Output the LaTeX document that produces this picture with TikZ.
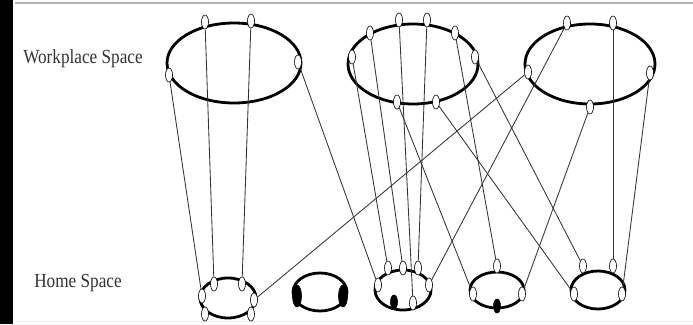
\documentclass[tikz,border=0pt]{standalone}
\usepackage{fontspec}
\usepackage{tikz}
\usetikzlibrary{shapes.geometric, positioning}
\newfontfamily\labelfont{Liberation Serif}

\begin{document}
\begin{tikzpicture}[x=1pt, y=-1pt,
    ring/.style={draw, ellipse, line width=2.8pt, inner sep=0pt},
    port/.style={draw, ellipse, line width=0.6pt, fill=white, inner sep=0pt, minimum width=7pt, minimum height=14pt},
    blackport/.style={port, fill=black},
    link/.style={black!80, line width=0.85pt},
    title/.style={font=\labelfont\fontsize{20}{22}\selectfont, text=black!80}]
    \useasboundingbox (0,0) rectangle (693,324);
    \fill (0,0) rectangle (13,324);
    \draw[gray!60, line width=1.5pt] (15,3) -- (693,3);
    \draw[gray!15, line width=1pt] (15,321) -- (693,321);

    \node[title] (work) at (83,59) {\scalebox{0.86}[1]{Workplace Space}};
    \node[title] (home) at (78,283) {\scalebox{0.86}[1]{Home Space}};

    % workplace rings
    \node[ring, minimum width=134pt, minimum height=80pt] (W1) at (234,63) {};
    \node[ring, minimum width=130pt, minimum height=80pt] (W2) at (413,64) {};
    \node[ring, minimum width=130pt, minimum height=80pt] (W3) at (590,64) {};

    % home rings
    \node[ring, minimum width=56pt, minimum height=40pt] (H1) at (228,298) {};
    \node[ring, minimum width=54pt, minimum height=38pt] (H2) at (320,292) {};
    \node[ring, minimum width=56pt, minimum height=40pt] (H3) at (403,290) {};
    \node[ring, minimum width=54pt, minimum height=36pt] (H4) at (497,290) {};
    \node[ring, minimum width=54pt, minimum height=38pt] (H5) at (598,290) {};

    % ports
    \node[port] (w1l) at (169,75) {};
    \node[port] (w1a) at (205,22) {};
    \node[port] (w1b) at (251,21) {};
    \node[port] (w1r) at (298,62) {};

    \node[port] (w2l) at (352,57) {};
    \node[port] (w2a) at (370,33) {};
    \node[port] (w2b) at (399,20) {};
    \node[port] (w2c) at (427,20) {};
    \node[port] (w2d) at (455,33) {};
    \node[port] (w2r) at (475,57) {};
    \node[port] (w2e) at (397,102) {};
    \node[port] (w2f) at (436,102) {};

    \node[port] (w3a) at (567,23) {};
    \node[port] (w3b) at (613,23) {};
    \node[port] (w3l) at (528,72) {};
    \node[port] (w3r) at (650,73) {};
    \node[port] (w3e) at (590,107) {};

    \node[port] (h1a) at (214,284) {};
    \node[port] (h1b) at (242,284) {};
    \node[port] (h1l) at (202,296) {};
    \node[port] (h1r) at (254,300) {};
    \node[port] (h1c) at (205,314) {};
    \node[port] (h1d) at (251,314) {};

    \node[blackport, minimum width=9pt, minimum height=22pt] (h2l) at (297,296) {};
    \node[blackport, minimum width=9pt, minimum height=22pt] (h2r) at (343,296) {};

    \node[port] (h3a) at (388,268) {};
    \node[port] (h3b) at (403,268) {};
    \node[port] (h3c) at (418,268) {};
    \node[port] (h3l) at (378,285) {};
    \node[port] (h3r) at (429,285) {};
    \node[blackport] (h3k) at (394,302) {};
    \node[port] (h3e) at (413,303) {};

    \node[port] (h4a) at (497,266) {};
    \node[port] (h4l) at (473,294) {};
    \node[port] (h4r) at (522,294) {};
    \node[blackport] (h4k) at (497,306) {};

    \node[port] (h5a) at (583,266) {};
    \node[port] (h5b) at (613,266) {};
    \node[port] (h5l) at (574,294) {};
    \node[port] (h5r) at (622,294) {};

    % links
    \draw[link] (w1l) -- (h1l);
    \draw[link] (w1a) -- (h1a);
    \draw[link] (w1b) -- (h1b);
    \draw[link] (w1r) -- (h3l);
    \draw[link] (h1r) -- (w3l);
    \draw[link] (w2l) -- (h3a);
    \draw[link] (w2a) -- (h3b);
    \draw[link] (w2b) -- (h3e);
    \draw[link] (w2c) -- (h3c);
    \draw[link] (w2d) -- (h4a);
    \draw[link] (w2e) -- (h4l);
    \draw[link] (w2r) -- (h5a);
    \draw[link] (w2f) -- (h5l);
    \draw[link] (w3a) -- (h3r);
    \draw[link] (w3e) -- (h4r);
    \draw[link] (w3b) -- (h5b);
    \draw[link] (w3r) -- (h5r);
\end{tikzpicture}
\end{document}
